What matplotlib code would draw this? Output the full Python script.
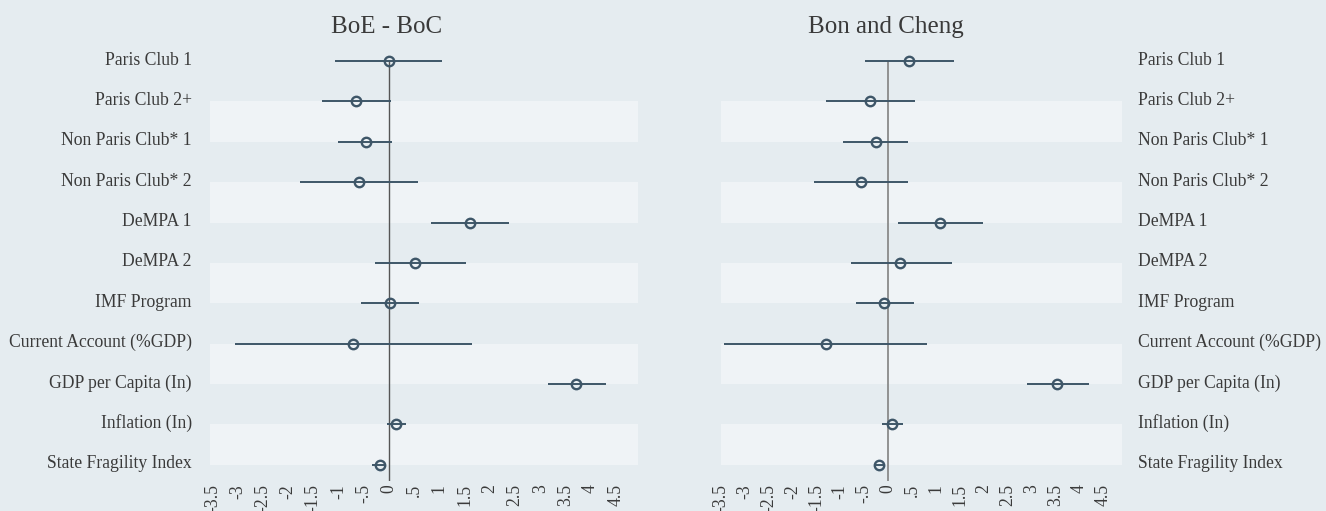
import matplotlib
matplotlib.use('Agg')
import matplotlib.pyplot as plt
import matplotlib.transforms as mtransforms

plt.rcParams['font.family'] = ['Liberation Serif', 'DejaVu Serif']

# variable names (top to bottom)
labels = ['Paris Club 1', 'Paris Club 2+', 'Non Paris Club* 1', 'Non Paris Club* 2',
          'DeMPA 1', 'DeMPA 2', 'IMF Program', 'Current Account (%GDP)',
          'GDP per Capita (In)', 'Inflation (In)', 'State Fragility Index']

# BoE - BoC estimates and confidence intervals
boe_coef = [0.00, -0.65, -0.46, -0.60, 1.61, 0.52, 0.02, -0.72, 3.72, 0.14, -0.18]
boe_lo = [-1.07, -1.33, -1.02, -1.76, 0.84, -0.27, -0.56, -3.06, 3.15, -0.04, -0.34]
boe_hi = [1.05, 0.04, 0.07, 0.57, 2.38, 1.53, 0.60, 1.64, 4.30, 0.34, -0.07]

# Bon and Cheng estimates and confidence intervals
bc_coef = [0.45, -0.37, -0.26, -0.56, 1.09, 0.26, -0.08, -1.30, 3.54, 0.08, -0.19]
bc_lo = [-0.49, -1.30, -0.94, -1.55, 0.21, -0.78, -0.68, -3.44, 2.91, -0.13, -0.30]
bc_hi = [1.375, 0.56, 0.42, 0.41, 1.98, 1.34, 0.55, 0.81, 4.20, 0.31, -0.09]

tick_vals = [-3.5, -3, -2.5, -2, -1.5, -1, -0.5, 0, 0.5, 1, 1.5, 2, 2.5, 3, 3.5, 4, 4.5]
tick_text = ['-3.5', '-3', '-2.5', '-2', '-1.5', '-1', '-.5', '0', '.5', '1',
             '1.5', '2', '2.5', '3', '3.5', '4', '4.5']

bg = '#e5ecf0'
band = '#eff3f6'
col = '#3e5668'
txt = '#3a3a3a'

fig = plt.figure(figsize=(13.26, 5.11), dpi=100, facecolor=bg)

W, H = 1326, 511
top, bottom = 61, 481
ax1 = fig.add_axes([210 / W, 1 - bottom / H, (638 - 210) / W, (bottom - top) / H])
ax2 = fig.add_axes([720.6 / W, 1 - bottom / H, (1121.7 - 720.6) / W, (bottom - top) / H])


def draw(ax, coef, lo, hi, xlim, zcol, zlw, right=False):
    ax.set_facecolor(bg)
    ypos = list(range(1, len(labels) + 1))
    for k in range(2, len(labels) + 1, 2):
        ax.axhspan(k, k + 1, color=band, zorder=0, lw=0)
    ax.axvline(0, color=zcol, lw=zlw, zorder=1)
    ax.hlines(ypos, lo, hi, color=col, lw=1.4, zorder=2, clip_on=False)
    ax.plot(coef, ypos, 'o', mfc='none', mec=col, ms=6.8, mew=1.7, zorder=3,
            clip_on=False)
    ax.set_xlim(*xlim)
    ax.set_ylim(11.4, 1)
    ax.set_yticks(ypos)
    ax.set_yticklabels(labels, fontsize=12.7, color=txt)
    ax.set_xticks(tick_vals)
    ax.set_xticklabels(tick_text, rotation=90, fontsize=12.7, color=txt)
    ax.tick_params(length=0, axis='y', pad=13)
    ax.tick_params(length=0, axis='x', pad=2)
    if right:
        ax.yaxis.tick_right()
        ax.tick_params(axis='y', pad=12)
    # labels sit slightly above the estimate line
    shift = mtransforms.ScaledTranslation(0, 3 / 100, fig.dpi_scale_trans)
    for lab in ax.get_yticklabels():
        lab.set_transform(lab.get_transform() + shift)
    for s in ax.spines.values():
        s.set_visible(False)


draw(ax1, boe_coef, boe_lo, boe_hi, (-3.55, 4.94), '#555555', 1.0)
draw(ax2, bc_coef, bc_lo, bc_hi, (-3.506, 4.894), '#8a8a8a', 1.3, right=True)

fig.text(387 / W, 1 - 33 / H, 'BoE - BoC', ha='center', va='baseline',
         fontsize=18, color=txt)
fig.text(886 / W, 1 - 33 / H, 'Bon and Cheng', ha='center', va='baseline',
         fontsize=18, color=txt)

fig.savefig('out.png', dpi=100, facecolor=bg)
